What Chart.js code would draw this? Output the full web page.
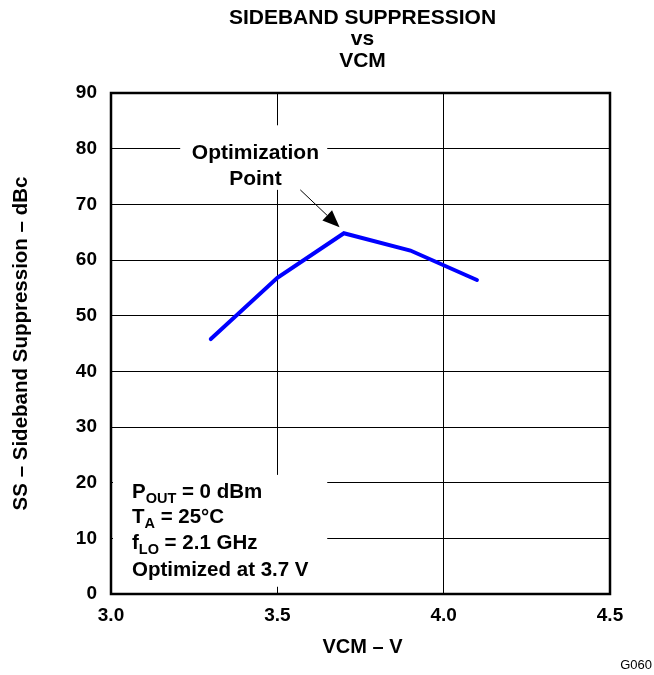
<!DOCTYPE html>
<html><head><meta charset="utf-8">
<script src="https://cdn.jsdelivr.net/npm/chart.js@4.4.1/dist/chart.umd.min.js"></script>
<style>html,body{margin:0;padding:0;background:#fff;} #wrap{width:654px;height:675px;}</style>
</head><body><div id="wrap"><canvas id="c" width="654" height="675"></canvas></div>
<script>
// ---- data ----
const titleLines = ['SIDEBAND SUPPRESSION', 'vs', 'VCM'];
const xAxisTitle = 'VCM \u2013 V';
const yAxisTitle = 'SS \u2013 Sideband Suppression \u2013 dBc';
const vcm = [3.3, 3.5, 3.7, 3.9, 4.1];
const suppression = [45.8, 56.8, 64.8, 61.7, 56.4];
const xTicks = [3.0, 3.5, 4.0, 4.5];
const yTicks = [0, 10, 20, 30, 40, 50, 60, 70, 80, 90];
const calloutLines = ['Optimization', 'Point'];
const conditionLines = [
  [{t: 'P'}, {t: 'OUT', sub: true}, {t: ' = 0 dBm'}],
  [{t: 'T'}, {t: 'A', sub: true}, {t: ' = 25\u00B0C'}],
  [{t: 'f'}, {t: 'LO', sub: true}, {t: ' = 2.1 GHz'}],
  [{t: 'Optimized at 3.7 V'}]
];
const figureId = 'G060';

const FAM = "'Liberation Sans', Arial, Helvetica, sans-serif";

function drawRich(ctx, x, y, parts) {
  let cx = x;
  for (const p of parts) {
    ctx.font = p.sub ? 'bold 14.5px ' + FAM : 'bold 20.5px ' + FAM;
    ctx.fillText(p.t, cx, p.sub ? y + 5 : y);
    cx += ctx.measureText(p.t).width;
  }
}

const annot = {
  id: 'annot',
  beforeDatasetsDraw(chart) {
    const {ctx, scales: {x, y}} = chart;
    ctx.save();
    ctx.fillStyle = '#fff';
    // callout label background
    let x0 = x.getPixelForValue(3.208), x1 = x.getPixelForValue(3.65);
    let y0 = y.getPixelForValue(84.2), y1 = y.getPixelForValue(72.6);
    ctx.fillRect(x0, y0, x1 - x0, y1 - y0);
    // conditions background
    x0 = x.getPixelForValue(3.006); x1 = x.getPixelForValue(3.65);
    y0 = y.getPixelForValue(21.4); y1 = y.getPixelForValue(1.3);
    ctx.fillRect(x0, y0, x1 - x0, y1 - y0);

    ctx.fillStyle = '#000';
    ctx.textBaseline = 'alphabetic';
    ctx.textAlign = 'center';
    ctx.font = 'bold 21px ' + FAM;
    const cxp = x.getPixelForValue(3.434);
    ctx.fillText(calloutLines[0], cxp, y.getPixelForValue(78.1));
    ctx.fillText(calloutLines[1], cxp, y.getPixelForValue(73.5));

    ctx.textAlign = 'left';
    const lx = x.getPixelForValue(3.063);
    const bases = [17.3, 12.75, 8.08, 3.23];
    conditionLines.forEach((parts, i) => drawRich(ctx, lx, y.getPixelForValue(bases[i]), parts));
    ctx.restore();
  },
  afterDatasetsDraw(chart) {
    const {ctx, chartArea: a, scales: {x, y}} = chart;
    ctx.save();
    // arrow
    const sx = x.getPixelForValue(3.569), sy = y.getPixelForValue(72.6);
    const tx = x.getPixelForValue(3.687), ty = y.getPixelForValue(65.9);
    const ang = Math.atan2(ty - sy, tx - sx);
    const hl = 17, hw = 7;
    const bx = tx - hl * Math.cos(ang), by = ty - hl * Math.sin(ang);
    ctx.strokeStyle = '#000'; ctx.lineWidth = 1;
    ctx.beginPath(); ctx.moveTo(sx, sy); ctx.lineTo(bx, by); ctx.stroke();
    ctx.fillStyle = '#000';
    ctx.beginPath();
    ctx.moveTo(tx, ty);
    ctx.lineTo(bx + hw * Math.sin(ang), by - hw * Math.cos(ang));
    ctx.lineTo(bx - hw * Math.sin(ang), by + hw * Math.cos(ang));
    ctx.closePath(); ctx.fill();
    // frame
    ctx.lineWidth = 2.5;
    ctx.strokeRect(a.left, a.top, a.right - a.left, a.bottom - a.top);
    ctx.restore();
  },
  afterDraw(chart) {
    const {ctx, chartArea: a} = chart;
    ctx.save();
    ctx.fillStyle = '#000';
    ctx.textAlign = 'center';
    ctx.textBaseline = 'alphabetic';
    ctx.font = 'bold 21px ' + FAM;
    const cx = (a.left + a.right) / 2 + 2;
    ctx.fillText(titleLines[0], cx, 24);
    ctx.fillText(titleLines[1], cx, 45);
    ctx.fillText(titleLines[2], cx, 67);
    ctx.font = 'bold 20px ' + FAM;
    ctx.fillText(xAxisTitle, cx, 653);
    ctx.textAlign = 'right';
    ctx.font = '13px ' + FAM;
    ctx.fillText(figureId, 652, 669);
    ctx.restore();
  }
};

new Chart(document.getElementById('c'), {
  type: 'line',
  data: {
    datasets: [{
      data: vcm.map((v, i) => ({x: v, y: suppression[i]})),
      borderColor: '#0000ff',
      borderWidth: 4,
      pointRadius: 0,
      tension: 0,
      borderCapStyle: 'round',
      fill: false
    }]
  },
  options: {
    responsive: false,
    animation: false,
    layout: {padding: {top: 93, right: 44, left: 0, bottom: 0}},
    plugins: {legend: {display: false}, tooltip: {enabled: false}, title: {display: false}},
    scales: {
      x: {
        type: 'linear',
        min: xTicks[0], max: xTicks[xTicks.length - 1],
        afterBuildTicks: s => { s.ticks = xTicks.map(v => ({value: v})); },
        afterFit: s => { s.height = 81; },
        ticks: {
          color: '#000', padding: 10, maxRotation: 0,
          font: {family: FAM, size: 19, weight: 'bold'},
          callback: v => Number(v).toFixed(1)
        },
        grid: {color: '#000', lineWidth: 1, drawTicks: false},
        border: {display: true, color: '#000', width: 2}
      },
      y: {
        type: 'linear',
        min: yTicks[0], max: yTicks[yTicks.length - 1],
        afterBuildTicks: s => { s.ticks = yTicks.map(v => ({value: v})); },
        afterFit: s => { s.width = 111; },
        ticks: {
          color: '#000', padding: 14,
          font: {family: FAM, size: 19, weight: 'bold'},
          callback: v => String(v)
        },
        title: {
          display: true, text: yAxisTitle, color: '#000',
          font: {family: FAM, size: 20.5, weight: 'bold'},
          padding: {top: 9, bottom: 0}
        },
        grid: {color: '#000', lineWidth: 1, drawTicks: false},
        border: {display: true, color: '#000', width: 2}
      }
    }
  },
  plugins: [annot]
});
</script>
</body></html>
